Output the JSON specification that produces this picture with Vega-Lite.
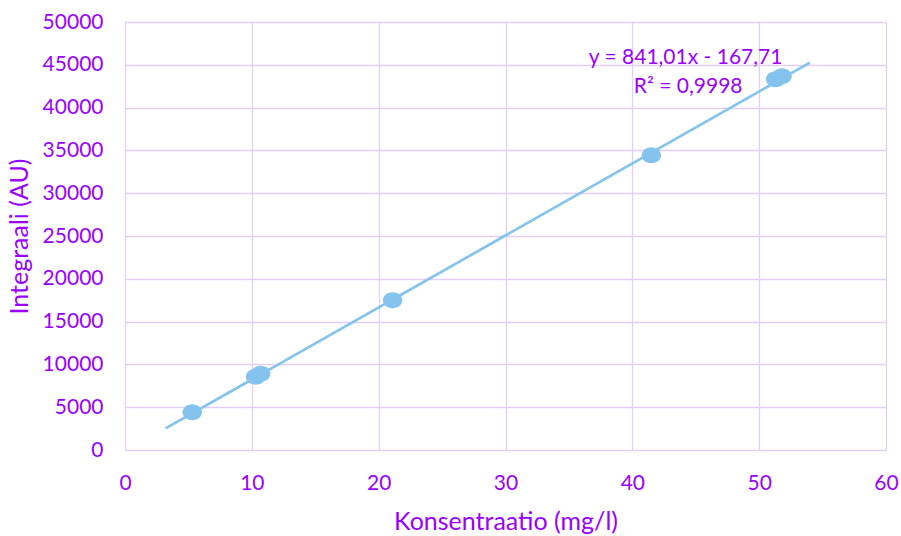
{
  "$schema": "https://vega.github.io/schema/vega-lite/v6.json",
  "width": 761,
  "height": 428,
  "autosize": "none",
  "padding": {"left": 125, "top": 22, "right": 15, "bottom": 86},
  "background": "white",
  "config": {
    "view": {"stroke": null},
    "font": "Lato",
    "axis": {
      "gridColor": "#E5CCFF",
      "gridWidth": 1.3,
      "gridOpacity": 1,
      "domain": false,
      "ticks": false,
      "labelColor": "#9900FF",
      "titleColor": "#9900FF",
      "labelFontSize": 21,
      "titleFontSize": 25,
      "titleFontWeight": "normal",
      "labelFont": "Lato",
      "titleFont": "Lato",
      "labelFlush": false,
      "labelOverlap": false
    }
  },
  "datasets": {
    "points": [
      {"x": 5.3, "y": 4420},
      {"x": 10.3, "y": 8550},
      {"x": 10.7, "y": 8900},
      {"x": 21.1, "y": 17500},
      {"x": 41.5, "y": 34420},
      {"x": 51.3, "y": 43300},
      {"x": 51.8, "y": 43650}
    ],
    "trend": [
      {"x": 3.2, "y": 2523},
      {"x": 54, "y": 45247}
    ],
    "labels": [
      {"x": 44.2, "y": 45800, "t": "y = 841,01x - 167,71"},
      {"x": 44.4, "y": 42400, "t": "R² = 0,9998"}
    ]
  },
  "layer": [
    {
      "data": {"name": "trend"},
      "mark": {"type": "line", "color": "#83C3EE", "strokeWidth": 2.7},
      "encoding": {
        "x": {
          "field": "x", "type": "quantitative",
          "scale": {"domain": [0, 60], "nice": false},
          "axis": {"values": [0, 10, 20, 30, 40, 50, 60], "title": "Konsentraatio (mg/l)", "labelPadding": 22, "titlePadding": 16}
        },
        "y": {
          "field": "y", "type": "quantitative",
          "scale": {"domain": [0, 50000], "nice": false},
          "axis": {"values": [0, 5000, 10000, 15000, 20000, 25000, 30000, 35000, 40000, 45000, 50000], "title": "Integraali (AU)", "labelPadding": 22, "titlePadding": 10, "format": "d"}
        }
      }
    },
    {
      "data": {"name": "points"},
      "mark": {
        "type": "point",
        "shape": "M -1,0 A 1,0.82 0 1 0 1,0 A 1,0.82 0 1 0 -1,0 Z",
        "size": 380,
        "filled": true,
        "opacity": 1,
        "color": "#83C3EE"
      },
      "encoding": {
        "x": {"field": "x", "type": "quantitative"},
        "y": {"field": "y", "type": "quantitative"}
      }
    },
    {
      "data": {"name": "labels"},
      "mark": {"type": "text", "color": "#9900FF", "fontSize": 21, "font": "Lato", "align": "center", "baseline": "middle"},
      "encoding": {
        "x": {"field": "x", "type": "quantitative"},
        "y": {"field": "y", "type": "quantitative"},
        "text": {"field": "t"}
      }
    }
  ]
}
